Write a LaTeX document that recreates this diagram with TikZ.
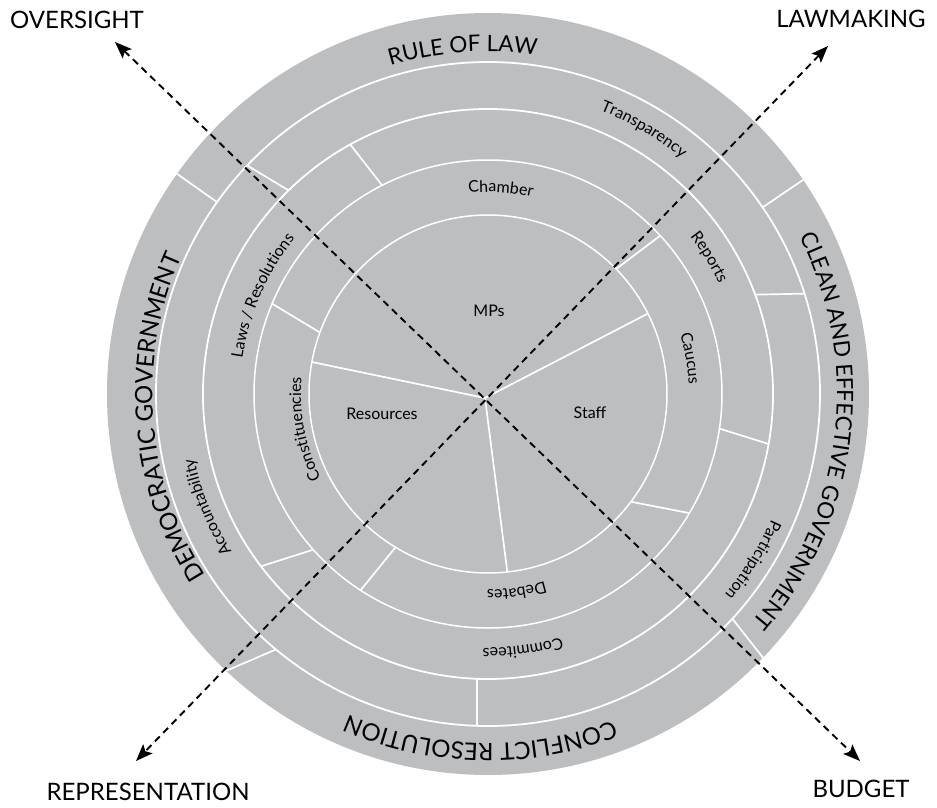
\documentclass[tikz,border=0pt]{standalone}
\usepackage{fontspec}
\setmainfont{Lato}
\usetikzlibrary{arrows.meta,decorations.text}
\definecolor{ringgray}{RGB}{189,190,192}
\newcommand\ringbig{\fontsize{24}{24}\selectfont}
\newcommand\ringmid{\fontsize{22.5}{22.5}\selectfont}
\newcommand\ringsmall{\fontsize{16}{16}\selectfont}
% text set clockwise along an arc: centre angle, baseline radius, half span, font, text
\newcommand\arclabel[5]{%
  \path[decorate,decoration={text along path,text align=center,text={|#4|#5}}]
    ({#1+#3}:#2) arc[start angle={#1+#3}, end angle={#1-#3}, radius=#2];}
\begin{document}
\begin{tikzpicture}[x=1pt,y=1pt,
  ring/.style={white,line width=1.8pt},
  thinring/.style={white,line width=1.5pt},
  divider/.style={white,line width=1.7pt},
  axis/.style={dash pattern=on 7pt off 5pt,line width=1.9pt,
    {Stealth[length=17pt,width=13pt,inset=3.5pt]}-{Stealth[length=17pt,width=13pt,inset=3.5pt]}},
  cornerlabel/.style={font=\ringbig,inner sep=0pt},
  innerlabel/.style={font=\ringsmall,inner sep=0pt}]
\useasboundingbox (-488,-413) rectangle (449,394);

% disc and rings
\fill[ringgray] (0,0) circle[radius=381];
\draw[ring] (0,0) circle[radius=332];
\draw[ring] (0,0) circle[radius=285];
\draw[thinring] (0,0) circle[radius=234];
\draw[thinring] (0,0) circle[radius=179];

% outer band dividers
\draw[divider] (144.7:332) -- (144.7:381);
\draw[divider] (34.2:332) -- (34.2:381);
\draw[divider] (-42.6:332) -- (-43.8:381);
\draw[divider] (230.3:332) -- (226.6:381);
% second band dividers
\draw[divider] (134.4:285) -- (136.5:332);
\draw[divider] (20.4:285) -- (17.6:332);
\draw[divider] (267.8:285) -- (268.1:332);
% third band dividers
\draw[divider] (116.9:234) -- (118.9:285);
\draw[divider] (351.5:234) -- (349.9:285);
\draw[divider] (221.7:234) -- (217.2:285);
% fourth band dividers
\draw[divider] (159.9:179) -- (157.3:234);
\draw[divider] (44.3:179) -- (42.6:234);
\draw[divider] (323:179) -- (329.4:234);
\draw[divider] (238.9:179) -- (237:234);
% core sectors
\coordinate (hub) at (-3,-4);
\draw[divider] (hub) -- (26.7:179);
\draw[divider] (hub) -- (169.7:179);
\draw[divider] (hub) -- (276.2:179);

% corner labels and axes
\node[cornerlabel] (oversight) at (-411,374) {OVERSIGHT};
\node[cornerlabel] (lawmaking) at (363,375) {LAWMAKING};
\node[cornerlabel] (representation) at (-340,-398) {REPRESENTATION};
\node[cornerlabel] (budget) at (373,-395) {BUDGET};
\coordinate (tipOV) at (-373,352);
\coordinate (tipLM) at (340,348);
\coordinate (tipRE) at (-352,-367);
\coordinate (tipBU) at (372,-367);
\draw[axis] (tipOV) -- (tipBU);
\draw[axis] (tipLM) -- (tipRE);

% outer band
\arclabel{94.2}{342.5}{60}{\ringmid}{RULE OF LAW}
\arclabel{-7}{349}{60}{\ringmid}{CLEAN AND EFFECTIVE GOVERNMENT}
\arclabel{-91.3}{349.5}{60}{\ringbig}{CONFLICT RESOLUTION}
\arclabel{184.3}{335.5}{60}{\ringbig}{DEMOCRATIC GOVERNMENT}
% second band
\arclabel{59.5}{305}{40}{\ringsmall}{Transparency}
\arclabel{202}{301}{40}{\ringsmall}{Accountability}
\arclabel{-32}{310}{40}{\ringsmall}{Participation}
% third band
\arclabel{31.7}{256}{40}{\ringsmall}{Reports}
\arclabel{156.5}{248}{40}{\ringsmall}{Laws / Resolutions}
\arclabel{-82.2}{254}{40}{\ringsmall}{Commitees}
% fourth band
\arclabel{86.4}{202}{40}{\ringsmall}{Chamber}
\arclabel{10}{201}{40}{\ringsmall}{Caucus}
\arclabel{-81.7}{196}{40}{\ringsmall}{Debates}
\arclabel{190.8}{187}{40}{\ringsmall}{Constituencies}
% core
\node[innerlabel] (mps) at (1,83) {MPs};
\node[innerlabel] (resources) at (-106,-20) {Resources};
\node[innerlabel] (staff) at (102,-19) {Staff};
\end{tikzpicture}
\end{document}
